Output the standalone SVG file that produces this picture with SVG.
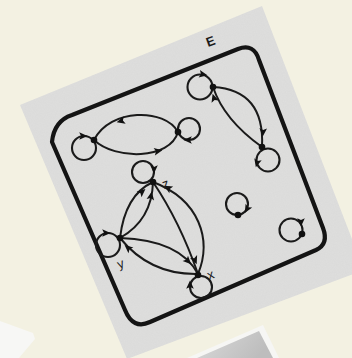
<svg xmlns="http://www.w3.org/2000/svg" xmlns:xlink="http://www.w3.org/1999/xlink" width="352" height="358" viewBox="0 0 352 358">
<defs>
<style>
.e{fill:none;stroke:#1a1a1a;stroke-width:2;stroke-linecap:round}
.lp{fill:none;stroke:#1a1a1a;stroke-width:2.1}
.d{fill:#111}
.ah{fill:#111}
.lbl{font-family:"Liberation Sans",Arial,sans-serif;fill:#1a1a1a}
</style>
<path id="a" d="M4.5,0 L-3.8,-3.8 L-2,0 L-3.8,3.8 Z"/>
<linearGradient id="g" x1="0" y1="0" x2="1" y2="0.3">
<stop offset="0" stop-color="#dadada"/>
<stop offset="1" stop-color="#bdbdbd"/>
</linearGradient>
<filter id="tex" x="0" y="0" width="1" height="1">
<feTurbulence type="fractalNoise" baseFrequency="0.9" numOctaves="2" seed="3" result="n"/>
<feColorMatrix in="n" type="matrix" values="0 0 0 0 0.5  0 0 0 0 0.5  0 0 0 0 0.5  0 0 0 0.15 0" result="m"/>
<feComposite in="m" in2="SourceGraphic" operator="in" result="c"/>
<feMerge><feMergeNode in="SourceGraphic"/><feMergeNode in="c"/></feMerge>
</filter>
</defs>
<rect width="352" height="358" fill="#f3f1e2"/>
<g id="pieces">
<polygon points="0,321 33,333 35,339 19,358 0,358" fill="#f7f7f5"/>
<polygon points="187,358 263,325 279,358" fill="#f6f6f4"/>
<polygon points="197,358 259,331 273,358" fill="url(#g)"/>
</g>
<polygon id="paper" points="262,6 364,270 127,359 20,105" fill="#dfdfde" filter="url(#tex)"/>
<g id="frame">
<path d="M52,142 Q54,121 72,115 L238,49 Q254,43 259,60 L323,228 Q329,244 316,250 L150,322 Q133,330 125,310 Z" fill="none" stroke="#141414" stroke-width="4.2" stroke-linejoin="round"/>
<text class="lbl" x="0" y="0" font-size="13" font-weight="bold" transform="translate(208,47) rotate(-20)">E</text>
</g>
<g id="connectors">
<path class="e" d="M213,87 Q265,90 262,147"/>
<path class="e" d="M262,147 Q224,120 213,87"/>
<path class="e" d="M178,132 C165,108 110,108 94,140"/>
<path class="e" d="M94,140 C115,160 170,160 178,132"/>
<path class="e" d="M120,238 Q125,195 153,182"/>
<path class="e" d="M120,238 Q152,220 153,182"/>
<path class="e" d="M153,182 Q180,222 198,274"/>
<path class="e" d="M198,274 C212,240 200,200 153,182"/>
<path class="e" d="M120,238 Q180,240 198,274"/>
<path class="e" d="M198,274 Q150,275 120,238"/>
<use xlink:href="#a" class="ah" transform="translate(263,132) rotate(93)"/>
<use xlink:href="#a" class="ah" transform="translate(214,98) rotate(-108)"/>
<use xlink:href="#a" class="ah" transform="translate(121,121) rotate(165)"/>
<use xlink:href="#a" class="ah" transform="translate(158,151) rotate(-10)"/>
<use xlink:href="#a" class="ah" transform="translate(142,192) rotate(-40)"/>
<use xlink:href="#a" class="ah" transform="translate(151,196) rotate(-80)"/>
<use xlink:href="#a" class="ah" transform="translate(195,260) rotate(68)"/>
<use xlink:href="#a" class="ah" transform="translate(168,188) rotate(-150)"/>
<use xlink:href="#a" class="ah" transform="translate(188,261) rotate(45)"/>
<use xlink:href="#a" class="ah" transform="translate(128,248) rotate(-140)"/>
</g>
<g id="n1">
<circle class="lp" cx="200" cy="87" r="12.5"/>
<use xlink:href="#a" class="ah" transform="translate(203,74.5) rotate(10)"/>
<circle class="d" cx="213" cy="87" r="3.3"/>
</g>
<g id="n2">
<circle class="lp" cx="268" cy="160" r="11.5"/>
<use xlink:href="#a" class="ah" transform="translate(257,163) rotate(105)"/>
<circle class="d" cx="262" cy="147" r="3.3"/>
</g>
<g id="n3">
<circle class="lp" cx="84" cy="148" r="12"/>
<use xlink:href="#a" class="ah" transform="translate(83,136) rotate(0)"/>
<circle class="d" cx="94" cy="140" r="3.3"/>
</g>
<g id="n4">
<circle class="lp" cx="189" cy="129" r="11"/>
<use xlink:href="#a" class="ah" transform="translate(188,140) rotate(180)"/>
<circle class="d" cx="178" cy="132" r="3.3"/>
</g>
<g id="z">
<circle class="lp" cx="143" cy="172" r="11"/>
<use xlink:href="#a" class="ah" transform="translate(154,169) rotate(90)"/>
<circle class="d" cx="153" cy="182" r="3.3"/>
<text class="lbl" x="0" y="0" font-size="13" transform="translate(164,189) rotate(-20)">z</text>
</g>
<g id="y">
<circle class="lp" cx="108" cy="245" r="12"/>
<use xlink:href="#a" class="ah" transform="translate(106,233) rotate(0)"/>
<circle class="d" cx="120" cy="238" r="3.3"/>
<text class="lbl" x="0" y="0" font-size="13" transform="translate(119,269) rotate(-20)">y</text>
</g>
<g id="x">
<circle class="lp" cx="201" cy="287" r="11"/>
<use xlink:href="#a" class="ah" transform="translate(190,285) rotate(-90)"/>
<circle class="d" cx="198" cy="275" r="3.3"/>
<text class="lbl" x="0" y="0" font-size="13" transform="translate(209,280) rotate(-20)">x</text>
</g>
<g id="n5">
<circle class="lp" cx="237" cy="204" r="11"/>
<use xlink:href="#a" class="ah" transform="translate(247,209) rotate(120)"/>
<circle class="d" cx="238" cy="215" r="3.3"/>
</g>
<g id="n6">
<circle class="lp" cx="291" cy="230" r="11.5"/>
<use xlink:href="#a" class="ah" transform="translate(301,222) rotate(90)"/>
<circle class="d" cx="302" cy="234" r="3.3"/>
</g>
</svg>
